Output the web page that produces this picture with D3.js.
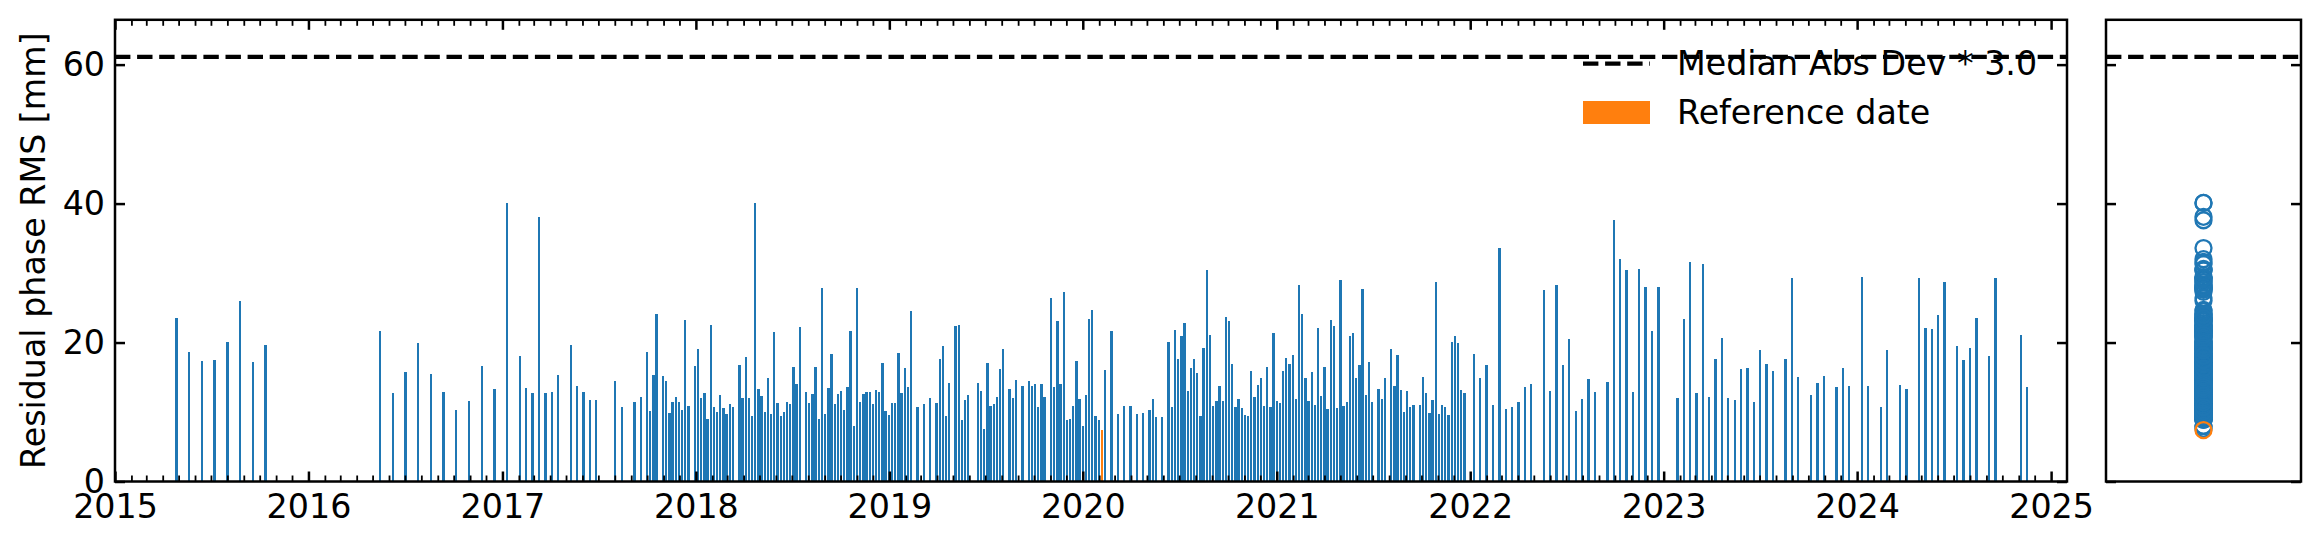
<!DOCTYPE html>
<html><head><meta charset="utf-8">
<script src="https://cdn.jsdelivr.net/npm/d3@7"></script>
<style>
html,body{margin:0;padding:0;background:#fff;}
svg{display:block;font-family:"DejaVu Sans",sans-serif;}
</style></head><body>
<svg id="chart" width="2322" height="545"></svg>
<script>
// ---------------- data ----------------
const dates = [
"2015-04-27","2015-05-21","2015-06-14","2015-07-08","2015-08-01","2015-08-25","2015-09-18","2015-10-12",
"2016-05-15","2016-06-08","2016-07-02","2016-07-26","2016-08-19","2016-09-12","2016-10-06","2016-10-30","2016-11-23","2016-12-17",
"2017-01-10","2017-02-03","2017-02-15","2017-02-27","2017-03-11","2017-03-23","2017-04-04","2017-04-16","2017-05-10","2017-05-22","2017-06-03","2017-06-15","2017-06-27",
"2017-08-02","2017-08-14","2017-09-07","2017-09-19","2017-10-01","2017-10-07","2017-10-13","2017-10-19","2017-10-31","2017-11-06","2017-11-12","2017-11-18","2017-11-24","2017-11-30","2017-12-06","2017-12-12","2017-12-18","2017-12-30",
"2018-01-05","2018-01-11","2018-01-17","2018-01-23","2018-01-29",
"2018-02-04","2018-02-10","2018-02-16","2018-02-22","2018-02-28",
"2018-03-06","2018-03-12","2018-03-24","2018-03-30",
"2018-04-05","2018-04-11","2018-04-17","2018-04-23","2018-04-29",
"2018-05-05","2018-05-11","2018-05-17","2018-05-23","2018-05-29",
"2018-06-04","2018-06-10","2018-06-16","2018-06-22","2018-06-28",
"2018-07-04","2018-07-10","2018-07-16","2018-07-28",
"2018-08-03","2018-08-09","2018-08-15","2018-08-21","2018-08-27",
"2018-09-02","2018-09-08","2018-09-14","2018-09-20","2018-09-26",
"2018-10-02","2018-10-08","2018-10-14","2018-10-20","2018-10-26",
"2018-11-01","2018-11-07","2018-11-13","2018-11-19","2018-11-25",
"2018-12-01","2018-12-07","2018-12-13","2018-12-19","2018-12-25","2018-12-31",
"2019-01-06","2019-01-12","2019-01-18","2019-01-24","2019-01-30",
"2019-02-05","2019-02-11","2019-02-23",
"2019-03-07","2019-03-19","2019-03-31",
"2019-04-06","2019-04-12","2019-04-18","2019-04-24",
"2019-05-06","2019-05-12","2019-05-18","2019-05-24","2019-05-30",
"2019-06-17","2019-06-23","2019-06-29",
"2019-07-05","2019-07-11","2019-07-17","2019-07-23","2019-07-29",
"2019-08-04","2019-08-16","2019-08-22","2019-08-28",
"2019-09-09","2019-09-21","2019-09-27",
"2019-10-03","2019-10-09","2019-10-15","2019-10-21",
"2019-11-02","2019-11-08","2019-11-14","2019-11-20","2019-11-26",
"2019-12-02","2019-12-08","2019-12-14","2019-12-20","2019-12-26",
"2020-01-01","2020-01-07","2020-01-13","2020-01-19","2020-01-25","2020-01-31",
"2020-02-06","2020-02-12","2020-02-24",
"2020-03-07","2020-03-19","2020-03-31",
"2020-04-12","2020-04-24",
"2020-05-06","2020-05-12","2020-05-18","2020-05-30",
"2020-06-11","2020-06-17","2020-06-23","2020-06-29",
"2020-07-05","2020-07-11","2020-07-17","2020-07-23","2020-07-29",
"2020-08-04","2020-08-10","2020-08-16","2020-08-22","2020-08-28",
"2020-09-03","2020-09-09","2020-09-15","2020-09-21","2020-09-27",
"2020-10-03","2020-10-09","2020-10-15","2020-10-21","2020-10-27",
"2020-11-02","2020-11-08","2020-11-14","2020-11-20","2020-11-26",
"2020-12-02","2020-12-08","2020-12-14","2020-12-20","2020-12-26",
"2021-01-01","2021-01-07","2021-01-13","2021-01-19","2021-01-25","2021-01-31",
"2021-02-06","2021-02-12","2021-02-18","2021-02-24",
"2021-03-02","2021-03-08","2021-03-14","2021-03-20","2021-03-26",
"2021-04-01","2021-04-07","2021-04-13","2021-04-19","2021-04-25",
"2021-05-01","2021-05-07","2021-05-13","2021-05-19","2021-05-25","2021-05-31",
"2021-06-06","2021-06-12","2021-06-18","2021-06-24","2021-06-30",
"2021-07-12","2021-07-18","2021-07-24",
"2021-08-05","2021-08-11","2021-08-17","2021-08-23","2021-08-29",
"2021-09-04","2021-09-10","2021-09-16","2021-09-28",
"2021-10-04","2021-10-10","2021-10-16","2021-10-22","2021-10-28",
"2021-11-03","2021-11-09","2021-11-15","2021-11-21","2021-11-27",
"2021-12-03","2021-12-09","2021-12-15","2021-12-21",
"2022-01-08","2022-01-20","2022-02-01","2022-02-13","2022-02-25","2022-03-09","2022-03-21","2022-04-02","2022-04-14","2022-04-26",
"2022-05-20","2022-06-01","2022-06-13","2022-06-25","2022-07-07","2022-07-19","2022-07-31","2022-08-12","2022-08-24","2022-09-17",
"2022-09-29","2022-10-11","2022-10-23","2022-11-04","2022-11-16","2022-11-28","2022-12-10","2022-12-22",
"2023-01-27","2023-02-08","2023-02-20","2023-03-04","2023-03-16","2023-03-28","2023-04-09","2023-04-21","2023-05-03","2023-05-15",
"2023-05-27","2023-06-08","2023-06-20","2023-07-02","2023-07-14","2023-07-26","2023-08-19","2023-08-31","2023-09-12","2023-10-06",
"2023-10-18","2023-10-30","2023-11-23","2023-12-05","2023-12-17",
"2024-01-10","2024-01-22","2024-02-15","2024-02-27","2024-03-22","2024-04-03","2024-04-27","2024-05-09","2024-05-21","2024-06-02",
"2024-06-14","2024-07-08","2024-07-20","2024-08-01","2024-08-13","2024-09-06","2024-09-18","2024-11-05","2024-11-17"
];
const values = [
23.5,18.6,17.3,17.5,20.1,26.0,17.2,19.6,
21.7,12.7,15.8,19.9,15.5,12.9,10.3,11.6,16.6,13.3,
40.1,18.1,13.5,12.7,38.1,12.7,12.9,15.3,19.6,13.7,12.9,11.7,11.7,
14.5,10.7,11.4,12.2,18.6,10.1,15.3,24.1,15.2,14.5,9.9,11.4,12.2,11.4,10.3,23.2,10.9,16.6,
19.1,12.0,12.7,9.0,22.5,
10.7,10.0,12.4,10.6,9.7,
11.2,10.7,16.8,12.0,
17.9,12.0,9.4,40.1,13.3,
12.3,10.0,14.9,9.7,21.5,
11.3,9.4,10.0,11.4,11.2,
16.5,14.0,22.2,12.9,
11.3,12.6,16.5,9.0,27.8,
9.7,13.5,18.3,11.2,12.6,
13.0,10.3,13.6,21.7,8.0,
27.8,11.4,12.6,12.9,12.9,
11.2,13.2,12.9,17.1,10.1,9.6,
11.3,11.3,18.5,12.7,16.3,
13.6,24.5,10.7,
11.2,12.0,11.3,
17.6,19.5,9.4,14.2,
22.4,22.5,8.9,11.7,12.4,
14.2,13.0,7.6,
17.1,10.9,11.2,12.2,16.2,
19.1,13.3,12.0,14.6,
13.7,14.5,13.7,
14.0,10.7,14.0,12.2,
26.4,13.6,23.1,14.0,27.3,
8.9,9.0,10.9,17.3,11.9,
8.0,12.4,23.4,24.7,9.4,8.9,
7.4,16.0,21.7,
9.7,10.9,10.9,
9.7,9.9,
10.3,11.9,9.3,9.3,
20.1,10.7,21.8,17.6,
20.9,22.8,13.0,16.3,17.6,
15.6,9.4,19.2,30.4,21.1,
10.9,11.6,13.7,11.6,23.7,
23.1,16.9,10.7,11.9,10.6,
9.6,9.4,15.9,12.2,13.9,
14.9,10.9,16.5,10.7,21.4,
11.6,11.3,15.9,17.8,16.9,18.2,
11.9,28.3,24.1,14.9,
11.6,15.8,11.0,22.1,12.3,
16.5,10.4,23.2,22.4,10.6,
29.0,10.9,11.4,20.9,21.4,14.9,
16.8,27.7,12.4,17.2,11.4,
13.3,11.9,14.9,
19.1,13.7,18.2,13.2,10.0,
13.0,10.7,11.0,11.0,
15.0,12.7,9.9,11.7,28.7,
9.7,11.0,10.7,9.6,20.1,
20.9,19.9,13.2,12.7,
18.3,14.9,16.8,11.0,33.6,10.4,10.7,11.4,13.6,14.0,
27.6,13.0,28.3,16.8,20.5,10.1,11.9,14.8,12.9,14.3,
37.6,32.0,30.4,12.9,30.6,28.0,21.7,28.0,
12.0,23.4,31.6,12.7,31.3,12.2,17.6,20.7,12.0,11.7,
16.2,16.3,11.4,18.9,16.9,15.9,17.6,29.3,15.0,12.4,
14.2,15.2,13.6,16.3,13.7,
29.4,13.7,10.7,18.9,13.9,13.3,29.3,22.1,21.9,24.0,
28.7,19.5,17.5,19.2,23.5,18.1,29.3,21.1,13.6
];
const referenceDate = "2020-02-06";
const thresholdValue = 61.1;
const legendLabels = ["Median Abs Dev * 3.0", "Reference date"];
const yAxisLabel = "Residual phase RMS [mm]";
const yTickValues = [0, 20, 40, 60];
const yearTickLabels = [2015, 2016, 2017, 2018, 2019, 2020, 2021, 2022, 2023, 2024, 2025];
const xLimits = ["2015-01-01", "2025-01-31"];
const yLimits = [0, 66.45];

// ---------------- layout / style ----------------
const BLUE = "#1f77b4", ORANGE = "#ff7f0e";
const FONT = 33.3;
const main = {left: 115, right: 2067, top: 19.8, bottom: 481.5};
const side = {left: 2106, right: 2301};
const spineW = 2.5, majorLen = 10, minorLen = 6, majorW = 2.5, minorW = 1.8;

const parse = d3.utcParse("%Y-%m-%d");
const data = dates.map((d, i) => ({date: parse(d), value: values[i], ref: d === referenceDate}));

const svg = d3.select("#chart");
const x = d3.scaleUtc().domain(xLimits.map(parse)).range([main.left, main.right]);
const y = d3.scaleLinear().domain(yLimits).range([main.bottom, main.top]);

// bars
const barDays = 4.4;
const x0 = x.domain()[0];
const barW = x(new Date(+x0 + barDays * 864e5)) - x(x0);
svg.append("g").attr("shape-rendering", "crispEdges")
  .selectAll("rect").data(data.filter(d => !d.ref).concat(data.filter(d => d.ref))).join("rect")
  .attr("x", d => x(d.date) - barW / 2)
  .attr("width", barW)
  .attr("y", d => y(d.value))
  .attr("height", d => y(0) - y(d.value))
  .attr("fill", d => d.ref ? ORANGE : BLUE);

// threshold dashed line (main)
const dash = "15.4,6.7";
svg.append("line")
  .attr("x1", main.left).attr("x2", main.right)
  .attr("y1", y(thresholdValue)).attr("y2", y(thresholdValue))
  .attr("stroke", "#000").attr("stroke-width", 4.2).attr("stroke-dasharray", dash);

// axes helpers
function style(g, width, keepText) {
  g.select(".domain").remove();
  g.selectAll(".tick line").attr("stroke", "#000").attr("stroke-width", width);
  if (!keepText) g.selectAll(".tick text").remove();
  else g.selectAll(".tick text").attr("fill", "#000").style("font-size", FONT + "px").style("font-family", "DejaVu Sans");
}
const years = yearTickLabels.map(yr => new Date(Date.UTC(yr, 0, 1)));
const months = d3.utcMonth.range(x.domain()[0], x.domain()[1]).filter(d => d.getUTCMonth() !== 0);

// bottom
svg.append("g").attr("transform", `translate(0,${main.bottom})`)
  .call(d3.axisBottom(x).tickValues(months).tickSize(-minorLen).tickFormat(""))
  .call(g => style(g, minorW, false));
svg.append("g").attr("transform", `translate(0,${main.bottom})`)
  .call(d3.axisBottom(x).tickValues(years).tickSize(-majorLen).tickPadding(12.5).tickFormat(d3.utcFormat("%Y")))
  .call(g => style(g, majorW, true));
// top
svg.append("g").attr("transform", `translate(0,${main.top})`)
  .call(d3.axisTop(x).tickValues(months).tickSize(-minorLen).tickFormat(""))
  .call(g => style(g, minorW, false));
svg.append("g").attr("transform", `translate(0,${main.top})`)
  .call(d3.axisTop(x).tickValues(years).tickSize(-majorLen).tickFormat(""))
  .call(g => style(g, majorW, false));
// left / right
svg.append("g").attr("transform", `translate(${main.left},0)`)
  .call(d3.axisLeft(y).tickValues(yTickValues).tickSize(-majorLen).tickPadding(10).tickFormat(d3.format("d")))
  .call(g => style(g, majorW, true));
svg.append("g").attr("transform", `translate(${main.right},0)`)
  .call(d3.axisRight(y).tickValues(yTickValues).tickSize(-majorLen).tickFormat(""))
  .call(g => style(g, majorW, false));

// frame
svg.append("rect")
  .attr("x", main.left).attr("y", main.top)
  .attr("width", main.right - main.left).attr("height", main.bottom - main.top)
  .attr("fill", "none").attr("stroke", "#000").attr("stroke-width", spineW);

// y label
svg.append("text")
  .attr("transform", `translate(44.5,${(main.top + main.bottom) / 2}) rotate(-90)`)
  .attr("text-anchor", "middle")
  .style("font-size", FONT + "px").attr("fill", "#000")
  .text(yAxisLabel);

// legend
const lg = svg.append("g");
lg.append("line").attr("x1", 1583).attr("x2", 1650).attr("y1", 63.6).attr("y2", 63.6)
  .attr("stroke", "#000").attr("stroke-width", 4.2).attr("stroke-dasharray", dash);
lg.append("rect").attr("x", 1583).attr("y", 101).attr("width", 67).attr("height", 23).attr("fill", ORANGE);
lg.append("text").attr("x", 1677).attr("y", 74.7).style("font-size", FONT + "px").attr("fill", "#000").text(legendLabels[0]);
lg.append("text").attr("x", 1677).attr("y", 123.7).style("font-size", FONT + "px").attr("fill", "#000").text(legendLabels[1]);

// ---------------- side panel ----------------
const xs = d3.scalePoint().domain(["all"]).range([side.left, side.right]).padding(0.5);
svg.append("line")
  .attr("x1", side.left).attr("x2", side.right)
  .attr("y1", y(thresholdValue)).attr("y2", y(thresholdValue))
  .attr("stroke", "#000").attr("stroke-width", 4.2).attr("stroke-dasharray", dash);
svg.append("g").selectAll("circle").data(data.filter(d => !d.ref).concat(data.filter(d => d.ref))).join("circle")
  .attr("cx", xs("all"))
  .attr("cy", d => y(d.value))
  .attr("r", 8)
  .attr("fill", "none")
  .attr("stroke", d => d.ref ? ORANGE : BLUE)
  .attr("stroke-width", 2.3);
svg.append("g").attr("transform", `translate(${side.left},0)`)
  .call(d3.axisLeft(y).tickValues(yTickValues).tickSize(-majorLen).tickFormat(""))
  .call(g => style(g, majorW, false));
svg.append("g").attr("transform", `translate(${side.right},0)`)
  .call(d3.axisRight(y).tickValues(yTickValues).tickSize(-majorLen).tickFormat(""))
  .call(g => style(g, majorW, false));
svg.append("rect")
  .attr("x", side.left).attr("y", main.top)
  .attr("width", side.right - side.left).attr("height", main.bottom - main.top)
  .attr("fill", "none").attr("stroke", "#000").attr("stroke-width", spineW);
</script>
</body></html>
